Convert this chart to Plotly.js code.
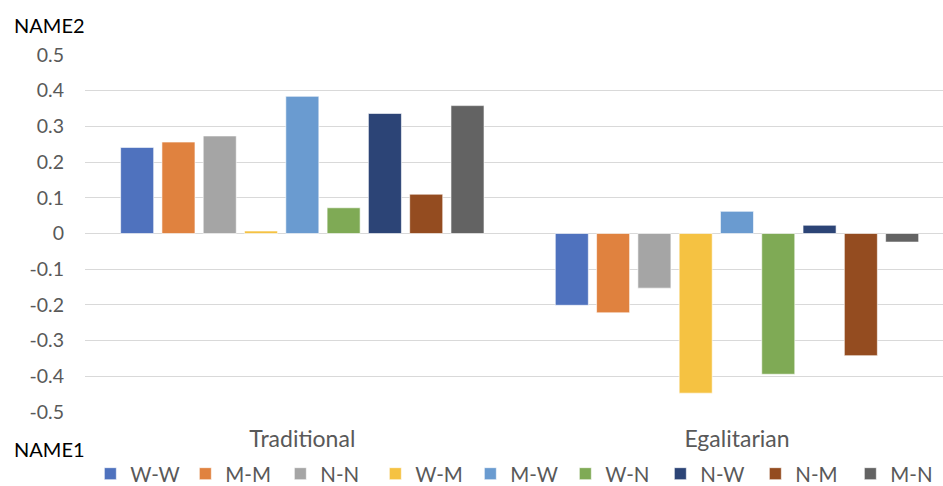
<!DOCTYPE html>
<html>
<head>
<meta charset="utf-8">
<script src="https://cdn.plot.ly/plotly-3.0.1.min.js"></script>
<style>html,body{margin:0;padding:0;background:#fff;}#chart{width:943px;height:486px;}</style>
</head>
<body>
<div id="chart"></div>
<script>
var categories = ["Traditional", "Egalitarian"];
var seriesNames = ["W-W", "M-M", "N-N", "W-M", "M-W", "W-N", "N-W", "N-M", "M-N"];
var WW = [0.241, -0.201];
var MM = [0.256, -0.222];
var NN = [0.273, -0.153];
var WM = [0.007, -0.447];
var MW = [0.384, 0.062];
var WN = [0.072, -0.394];
var NW = [0.336, 0.023];
var NM = [0.110, -0.342];
var MN = [0.358, -0.024];
var yTicks = [0.5, 0.4, 0.3, 0.2, 0.1, 0, -0.1, -0.2, -0.3, -0.4, -0.5];
var yTickLabels = ["0.5", "0.4", "0.3", "0.2", "0.1", "0", "-0.1", "-0.2", "-0.3", "-0.4", "-0.5"];

var seriesValues = [WW, MM, NN, WM, MW, WN, NW, NM, MN];
var colors = ["#4F72BE", "#E0823F", "#A5A5A5", "#F5C242", "#6A9BD0", "#7FAA55", "#2C4476", "#944C20", "#636363"];

var font = "Lato, 'Open Sans', sans-serif";
var traces = seriesNames.map(function (n, i) {
  return {
    type: "bar",
    name: n,
    x: categories,
    y: seriesValues[i],
    marker: { color: colors[i], line: { color: "rgba(255,255,255,0.6)", width: 1 } },
    hoverinfo: "x+y+name"
  };
});

var layout = {
  width: 943,
  height: 486,
  margin: { l: 85, r: 0, t: 54, b: 73, pad: 0 },
  paper_bgcolor: "#ffffff",
  plot_bgcolor: "#ffffff",
  font: { family: font, size: 19, color: "#595959" },
  barmode: "group",
  bargap: 0.145,
  bargroupgap: 0.2,
  showlegend: true,
  xaxis: {
    type: "category",
    range: [-0.5, 1.474],
    showgrid: false,
    showline: false,
    zeroline: false,
    ticks: "",
    ticklabelstandoff: 10,
    tickfont: { family: font, size: 23, color: "#595959" }
  },
  yaxis: {
    range: [-0.5025, 0.5025],
    tickvals: yTicks,
    ticktext: yTickLabels,
    showgrid: true,
    gridcolor: "#D9D9D9",
    gridwidth: 1,
    zeroline: true,
    zerolinecolor: "#D9D9D9",
    zerolinewidth: 1,
    showline: false,
    ticks: "",
    ticklabelstandoff: 20,
    tickfont: { family: font, size: 19.5, color: "#595959" }
  },
  legend: {
    orientation: "h",
    xref: "container",
    yref: "container",
    x: 0.0958,
    xanchor: "left",
    y: 0.025,
    yanchor: "middle",
    font: { family: font, size: 20.5, color: "#595959" },
    entrywidth: 50,
    entrywidthmode: "pixels",
    itemclick: false,
    traceorder: "normal"
  },
  annotations: [
    { text: "NAME2", xref: "paper", yref: "paper", x: -0.0851, y: 1.0808, xanchor: "left", yanchor: "middle", showarrow: false, font: { family: font, size: 20, color: "#000000" } },
    { text: "NAME1", xref: "paper", yref: "paper", x: -0.0851, y: -0.1003, xanchor: "left", yanchor: "middle", showarrow: false, font: { family: font, size: 20, color: "#000000" } }
  ]
};

Plotly.newPlot("chart", traces, layout, { displayModeBar: false, staticPlot: true });
</script>
</body>
</html>
